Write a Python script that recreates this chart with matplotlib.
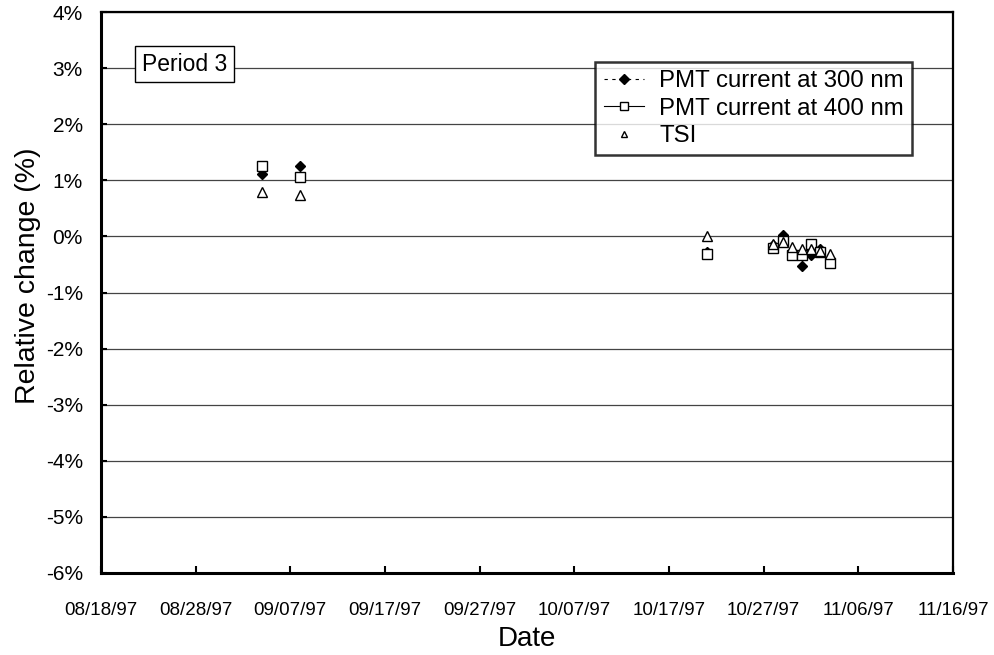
import datetime as dt
import matplotlib
matplotlib.use('Agg')
import matplotlib.pyplot as plt
import matplotlib.dates as mdates
from matplotlib.lines import Line2D
from matplotlib.ticker import FuncFormatter, MultipleLocator

plt.rcParams['font.family'] = ['Liberation Sans', 'DejaVu Sans']

# 日期 (1997)
dates = ['09/04', '09/08', '10/21', '10/28', '10/29', '10/30', '10/31',
         '11/01', '11/02', '11/03']
pmt300 = [1.12, 1.25, -0.27, -0.15, 0.03, -0.30, -0.53, -0.33, -0.22, -0.40]
pmt400 = [1.25, 1.05, -0.31, -0.20, -0.08, -0.33, -0.34, -0.13, -0.28, -0.47]
tsi = [0.80, 0.73, 0.00, -0.13, -0.10, -0.19, -0.22, -0.22, -0.26, -0.32]
tick_days = [0, 10, 20, 30, 40, 50, 60, 70, 80, 90]

x = [dt.datetime.strptime(d + '/97', '%m/%d/%y') for d in dates]
start = dt.datetime(1997, 8, 18)

fig = plt.figure(figsize=(9.95, 6.55), dpi=100)
ax = fig.add_axes([101/995, 1-573/655, (953-101)/995, (573-12)/655])

ax.plot(x, pmt300, linestyle='none', marker='D', ms=4.7, mfc='black', mec='black', zorder=3)
ax.plot(x, pmt400, linestyle='none', marker='s', ms=6.5, mfc='white', mec='black', mew=1.0, zorder=4)
ax.plot(x, tsi, linestyle='none', marker='^', ms=6.5, mfc='white', mec='black', mew=1.0, zorder=5)

ax.set_ylim(-6, 4)
ax.yaxis.set_major_locator(MultipleLocator(1))
ax.yaxis.set_major_formatter(FuncFormatter(lambda v, p: '%d%%' % round(v)))
ax.set_xlim(start, start + dt.timedelta(days=90))
ax.set_xticks([start + dt.timedelta(days=d) for d in tick_days])
ax.xaxis.set_major_formatter(mdates.DateFormatter('%m/%d/%y'))

ax.grid(axis='y', color='#444444', linewidth=0.9)
ax.set_axisbelow(True)
ax.tick_params(axis='both', direction='in', length=5, width=1.5, color='black')
ax.tick_params(axis='y', labelsize=15, pad=13, length=4)
ax.tick_params(axis='x', labelsize=13.5, pad=21)
for s in ['left', 'bottom']:
    ax.spines[s].set_linewidth(2.2)
ax.spines['top'].set_linewidth(1.6)
ax.spines['right'].set_linewidth(1.6)

ax.set_xlabel('Date', fontsize=20)
ax.xaxis.set_label_coords(0.5, -0.095)
ax.set_ylabel('Relative change (%)', fontsize=20.5)
ax.yaxis.set_label_coords(-0.071, 0.53)

ax.text(0.048, 0.907, 'Period 3', transform=ax.transAxes, fontsize=16.5,
        va='center', ha='left',
        bbox=dict(boxstyle='square,pad=0.28', fc='white', ec='black', lw=1.0))

handles = [
    Line2D([], [], color='black', linestyle=(0, (3, 4)), lw=0.8, marker='D', ms=5,
           mfc='black', mec='black'),
    Line2D([], [], color='black', linestyle='-', lw=0.8, marker='s', ms=6,
           mfc='white', mec='black'),
    Line2D([], [], color='black', linestyle='none', marker='^', ms=5,
           mfc='white', mec='black'),
]
labels = ['PMT current at 300 nm', 'PMT current at 400 nm', 'TSI']
leg = ax.legend(handles, labels, loc='upper left', bbox_to_anchor=(0.580, 0.911),
                fontsize=17.3, frameon=True, fancybox=False, edgecolor='black',
                borderpad=0.35, labelspacing=0.22, handlelength=1.7, handletextpad=0.62,
                borderaxespad=0)
leg.get_frame().set_linewidth(1.8)

fig.savefig('out.png', dpi=100)
